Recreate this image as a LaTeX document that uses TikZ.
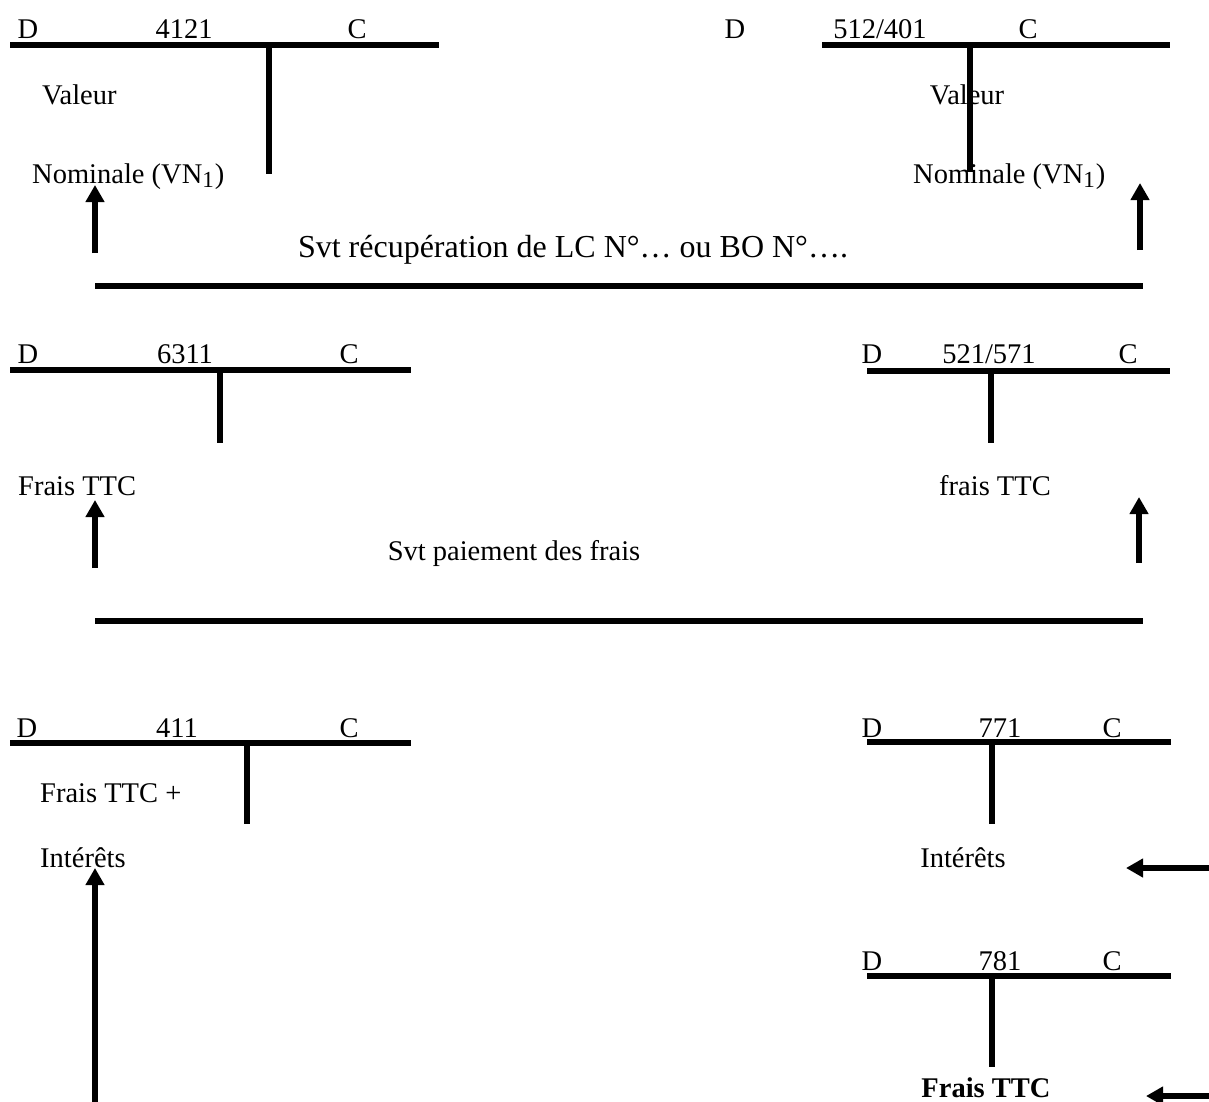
\documentclass[tikz,border=0pt]{standalone}
\usepackage{fontspec}
\setmainfont{Liberation Serif}
\usetikzlibrary{arrows.meta}
\newcommand{\vnsub}[1]{\raisebox{-5pt}{\fontsize{23}{23}\selectfont #1}\kern1pt}
\tikzset{
  tline/.style={line width=5.5pt},
  bigarrow/.style={line width=5.5pt,-{Triangle[width=18pt,length=17pt]}},
  lbl/.style={inner sep=0pt,anchor=base,font=\fontsize{28.5}{30}\selectfont},
  lbll/.style={lbl,anchor=base west},
}
\begin{document}
\begin{tikzpicture}[x=1pt,y=-1pt]
\useasboundingbox (0,0) rectangle (1209,1102);

% ---------- top-left : 4121 ----------
\coordinate (tlA) at (10,45);  \coordinate (tlB) at (439,45);
\coordinate (tlV) at (269,45); \coordinate (tlW) at (269,174);
\draw[tline] (tlA) -- (tlB);
\draw[tline] (tlV) -- (tlW);
\node[lbl] (tlD) at (28,39) {D};
\node[lbl] (tlN) at (184,39) {4121};
\node[lbl] (tlC) at (357,39) {C};
\node[lbll] (tlval) at (42,105) {Valeur};
\node[lbll] (tlnom) at (32,183) {Nominale (VN\vnsub{1})};
\coordinate (a1s) at (95,253); \coordinate (a1e) at (95,185);
\draw[bigarrow] (a1s) -- (a1e);

% ---------- top-right : 512/401 ----------
\coordinate (trA) at (822,45);  \coordinate (trB) at (1170,45);
\node[lbl] (trD) at (735,39) {D};
\node[lbl] (trN) at (880,39) {512/401};
\node[lbl] (trC) at (1028,39) {C};
\node[lbl] (trval) at (967,105) {Valeur};
\node[lbll] (trnom) at (913,183) {Nominale (VN\vnsub{1})};
\coordinate (trV) at (970,45); \coordinate (trW) at (970,172);
\draw[tline] (trA) -- (trB);
\draw[tline] (trV) -- (trW);
\coordinate (a2s) at (1140,250); \coordinate (a2e) at (1140,183);
\draw[bigarrow] (a2s) -- (a2e);

\node[lbl,font=\fontsize{32}{34}\selectfont] (svt1) at (573,257) {Svt récupération de LC N°… ou BO N°….};
\coordinate (s1A) at (95,286); \coordinate (s1B) at (1143,286);
\draw[tline] (s1A) -- (s1B);

% ---------- middle-left : 6311 ----------
\coordinate (mlA) at (10,370);  \coordinate (mlB) at (411,370);
\coordinate (mlV) at (220,370); \coordinate (mlW) at (220,443);
\draw[tline] (mlA) -- (mlB);
\draw[tline] (mlV) -- (mlW);
\node[lbl] (mlD) at (28,363) {D};
\node[lbl] (mlN) at (185,363) {6311};
\node[lbl] (mlC) at (349,363) {C};
\node[lbll] (mlfr) at (18,495) {Frais TTC};
\coordinate (a3s) at (95,568); \coordinate (a3e) at (95,500);
\draw[bigarrow] (a3s) -- (a3e);

% ---------- middle-right : 521/571 ----------
\coordinate (mrA) at (867,371);  \coordinate (mrB) at (1170,371);
\coordinate (mrV) at (991,371);  \coordinate (mrW) at (991,443);
\draw[tline] (mrA) -- (mrB);
\draw[tline] (mrV) -- (mrW);
\node[lbl] (mrD) at (872,363) {D};
\node[lbl] (mrN) at (989,363) {521/571};
\node[lbl] (mrC) at (1128,363) {C};
\node[lbl] (mrfr) at (995,495) {frais TTC};
\coordinate (a4s) at (1139,563); \coordinate (a4e) at (1139,497);
\draw[bigarrow] (a4s) -- (a4e);

\node[lbl] (svt2) at (514,560) {Svt paiement des frais};
\coordinate (s2A) at (95,621); \coordinate (s2B) at (1143,621);
\draw[tline] (s2A) -- (s2B);

% ---------- bottom-left : 411 ----------
\coordinate (blA) at (10,743);  \coordinate (blB) at (411,743);
\coordinate (blV) at (247,743); \coordinate (blW) at (247,824);
\draw[tline] (blA) -- (blB);
\draw[tline] (blV) -- (blW);
\node[lbl] (blD) at (27,737) {D};
\node[lbl] (blN) at (177,737) {411};
\node[lbl] (blC) at (349,737) {C};
\node[lbll] (blfr) at (40,802) {Frais TTC +};
\node[lbll] (blint) at (40,867) {Intérêts};
\coordinate (a5s) at (95,1102); \coordinate (a5e) at (95,868);
\draw[bigarrow] (a5s) -- (a5e);

% ---------- bottom-right : 771 ----------
\coordinate (brA) at (867,742);  \coordinate (brB) at (1171,742);
\coordinate (brV) at (992,742);  \coordinate (brW) at (992,824);
\draw[tline] (brA) -- (brB);
\draw[tline] (brV) -- (brW);
\node[lbl] (brD) at (872,737) {D};
\node[lbl] (brN) at (1000,737) {771};
\node[lbl] (brC) at (1112,737) {C};
\node[lbl] (brint) at (963,867) {Intérêts};
\coordinate (a6s) at (1209,868); \coordinate (a6e) at (1126,868);
\draw[bigarrow] (a6s) -- (a6e);

% ---------- bottom-right : 781 ----------
\coordinate (xrA) at (867,976);  \coordinate (xrB) at (1171,976);
\coordinate (xrV) at (992,976);  \coordinate (xrW) at (992,1067);
\draw[tline] (xrA) -- (xrB);
\draw[tline] (xrV) -- (xrW);
\node[lbl] (xrD) at (872,970) {D};
\node[lbl] (xrN) at (1000,970) {781};
\node[lbl] (xrC) at (1112,970) {C};
\node[lbl,font=\fontsize{28.5}{30}\selectfont\bfseries] (xrfr) at (986,1097) {Frais TTC};
\coordinate (a7s) at (1209,1096); \coordinate (a7e) at (1146,1096);
\draw[bigarrow] (a7s) -- (a7e);
\end{tikzpicture}
\end{document}
